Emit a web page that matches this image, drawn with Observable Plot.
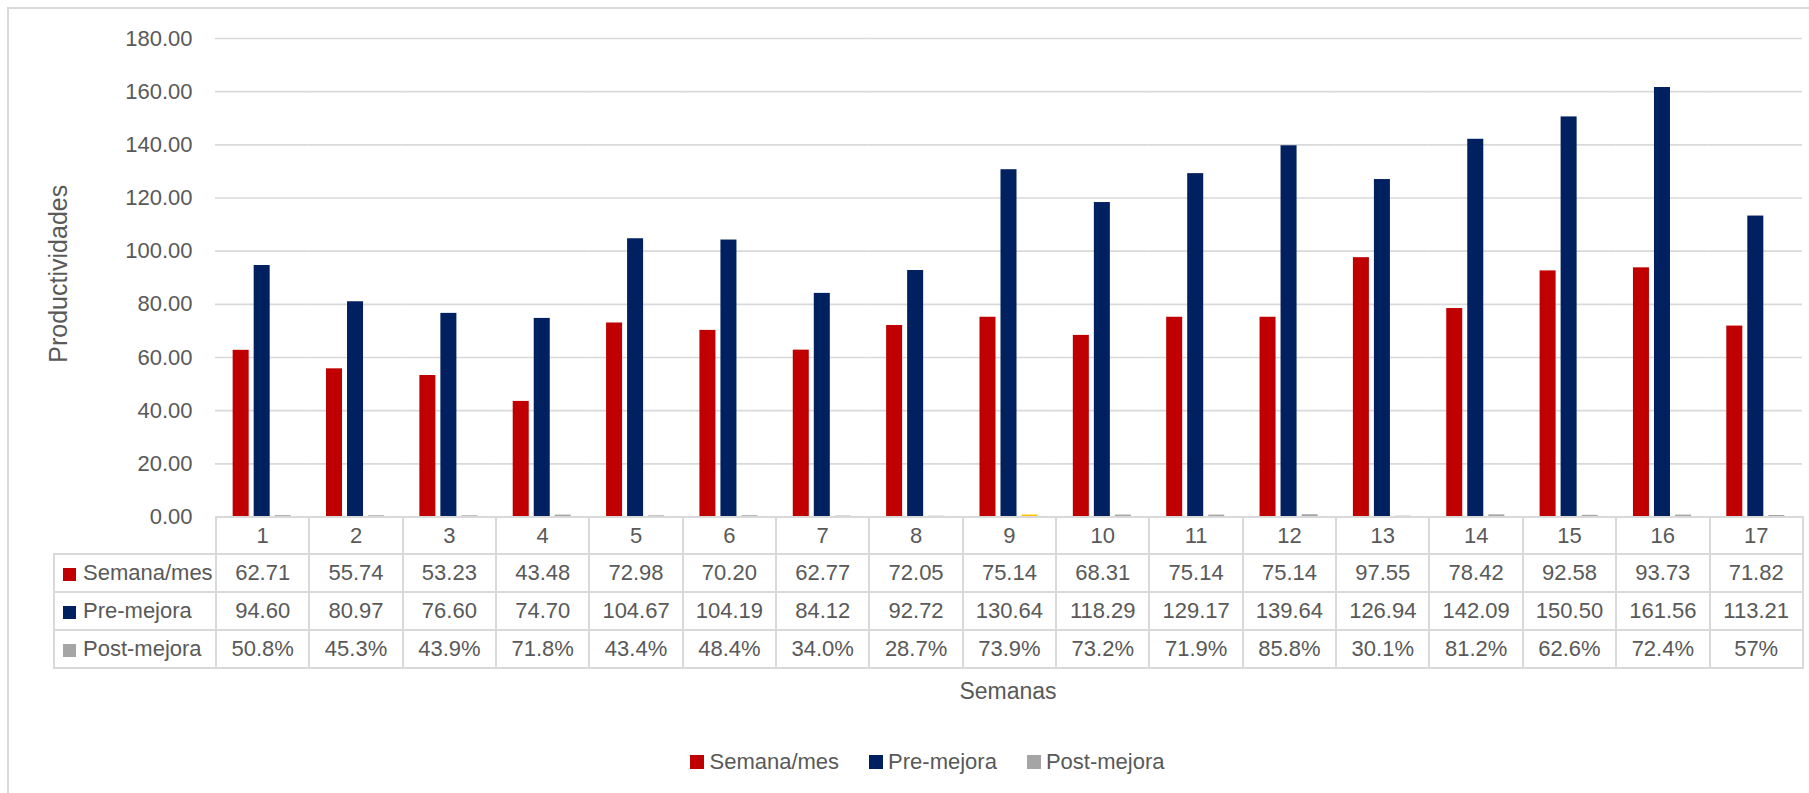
<!DOCTYPE html>
<html>
<head>
<meta charset="utf-8">
<script src="https://cdn.jsdelivr.net/npm/d3@7"></script>
<script src="https://cdn.jsdelivr.net/npm/@observablehq/plot@0.6"></script>
<style>
  body { margin: 0; background: #fff; }
  #wrap { position: relative; width: 1809px; height: 793px; overflow: hidden; background: #fff;
          font-family: "Liberation Sans", Arial, sans-serif; color: #595959; }
  #frame { position: absolute; left: 7px; top: 7px; width: 1900px; height: 900px;
           border: 2px solid #D9D9D9; box-sizing: border-box; }
  #chart { position: absolute; left: 0; top: 0; }
  table.dt { position: absolute; border-collapse: collapse; table-layout: fixed;
             font-family: "Liberation Sans", Arial, sans-serif; font-size: 22px; color: #595959; }
  table.dt td { border: 2px solid #D9D9D9; text-align: center; padding: 0; white-space: nowrap; overflow: hidden; }
  table.dt td.blank { border-top-style: none; border-left-style: none; }
  table.dt td.head { text-align: left; padding-left: 8px; }
  table.dt .sw { display: inline-block; width: 13px; height: 13px; margin-right: 7px; vertical-align: -1px; }
  #xtitle { position: absolute; left: 908px; width: 200px; top: 678px; text-align: center;
            font-family: "Liberation Sans", Arial, sans-serif; font-size: 23px; color: #595959; }
  #legend { position: absolute; left: 53px; width: 1749px; top: 745px; display: flex; justify-content: center; }
  #legend .lg-swatch { margin-right: 30px !important; }
  #legend .lg-swatch:last-child { margin-right: 0 !important; }
  #legend .lg-swatch > svg { margin-right: 5px !important; }
  #legend .lg-swatches, #legend .lg-swatches-wrap { margin: 0 !important; justify-content: center; }
</style>
</head>
<body>
<div id="wrap">
  <div id="frame"></div>
  <div id="chart"></div>
  <div id="xtitle">Semanas</div>
  <div id="legend"></div>
</div>
<script>
// ---- data ----
const weeks = [1, 2, 3, 4, 5, 6, 7, 8, 9, 10, 11, 12, 13, 14, 15, 16, 17];
const seriesNames = ["Semana/mes", "Pre-mejora", "Post-mejora"];
const semanaMes = [62.71, 55.74, 53.23, 43.48, 72.98, 70.20, 62.77, 72.05, 75.14, 68.31, 75.14, 75.14, 97.55, 78.42, 92.58, 93.73, 71.82];
const preMejora = [94.60, 80.97, 76.60, 74.70, 104.67, 104.19, 84.12, 92.72, 130.64, 118.29, 129.17, 139.64, 126.94, 142.09, 150.50, 161.56, 113.21];
const postMejora = [0.508, 0.453, 0.439, 0.718, 0.434, 0.484, 0.340, 0.287, 0.739, 0.732, 0.719, 0.858, 0.301, 0.812, 0.626, 0.724, 0.57];
const postLabels = ["50.8%", "45.3%", "43.9%", "71.8%", "43.4%", "48.4%", "34.0%", "28.7%", "73.9%", "73.2%", "71.9%", "85.8%", "30.1%", "81.2%", "62.6%", "72.4%", "57%"];
const yTicks = [0, 20, 40, 60, 80, 100, 120, 140, 160, 180];
const highlightWeek = 9;

// ---- styles ----
const seriesColors = ["#C00000", "#002060", "#A5A5A5"];
const highlightColor = "#FFC000";
const textColor = "#595959";

const rows = [];
weeks.forEach((w, i) => {
  rows.push({week: w, series: seriesNames[0], value: semanaMes[i]});
  rows.push({week: w, series: seriesNames[1], value: preMejora[i]});
  rows.push({week: w, series: seriesNames[2], value: postMejora[i]});
});
const fillOf = d => (d.series === seriesNames[2] && d.week === highlightWeek)
  ? highlightColor : seriesColors[seriesNames.indexOf(d.series)];

const chart = Plot.plot({
  width: 1809,
  height: 536,
  marginTop: 38,
  marginBottom: 19.5,
  marginLeft: 215,
  marginRight: 7,
  style: {background: "transparent", fontFamily: "Liberation Sans, Arial, sans-serif", fontSize: "22px", color: textColor, overflow: "visible"},
  fx: {domain: weeks, padding: 0, round: false, axis: null, label: null},
  x: {domain: seriesNames, paddingInner: 0.238, paddingOuter: 0.84, round: false, axis: null, label: null},
  y: {domain: [0, 180], ticks: yTicks, tickFormat: d => d.toFixed(2), tickSize: 0, tickPadding: 23, label: null},
  color: {type: "identity"},
  marks: [
    Plot.gridY(yTicks, {stroke: "#D9D9D9", strokeOpacity: 1, strokeWidth: 1.6}),
    Plot.barY(rows, {fx: "week", x: "series", y: "value", fill: fillOf}),
    Plot.text([{week: weeks[0], t: "Productividades"}], {
      fx: "week", text: "t", frameAnchor: "left", textAnchor: "middle", lineAnchor: "middle",
      dx: -157, dy: -4, rotate: -90, fontSize: 25, fill: textColor
    })
  ]
});
document.getElementById("chart").appendChild(chart);

// ---- data table aligned to the fx scale ----
const fx = chart.scale("fx");
const colW = fx.step !== undefined ? fx.step : fx.bandwidth;
const tableLeft = 53;
const firstW = fx.range[0] - tableLeft;
const table = document.createElement("table");
table.className = "dt";
table.style.left = tableLeft + "px";
table.style.top = "516px";
table.style.width = (firstW + colW * weeks.length) + "px";
const cg = document.createElement("colgroup");
const c0 = document.createElement("col"); c0.style.width = firstW + "px"; cg.appendChild(c0);
weeks.forEach(() => { const c = document.createElement("col"); c.style.width = colW + "px"; cg.appendChild(c); });
table.appendChild(cg);

function addRow(head, values, color, h) {
  const tr = document.createElement("tr");
  tr.style.height = h + "px";
  const th = document.createElement("td");
  if (head === null) { th.className = "blank"; }
  else {
    th.className = "head";
    const sw = document.createElement("span");
    sw.className = "sw"; sw.style.background = color;
    th.appendChild(sw);
    th.appendChild(document.createTextNode(head));
  }
  tr.appendChild(th);
  values.forEach(v => { const td = document.createElement("td"); td.textContent = v; tr.appendChild(td); });
  table.appendChild(tr);
}
addRow(null, weeks.map(String), null, 37);
addRow(seriesNames[0], semanaMes.map(v => v.toFixed(2)), seriesColors[0], 38);
addRow(seriesNames[1], preMejora.map(v => v.toFixed(2)), seriesColors[1], 38);
addRow(seriesNames[2], postLabels, seriesColors[2], 38);
document.getElementById("wrap").appendChild(table);

// ---- legend ----
const legend = Plot.legend({
  color: {type: "ordinal", domain: seriesNames, range: seriesColors},
  swatchSize: 14,
  className: "lg",
  style: {fontFamily: "'Liberation Sans', Arial, sans-serif", fontSize: "22px", color: textColor}
});
document.getElementById("legend").appendChild(legend);
</script>
</body>
</html>
